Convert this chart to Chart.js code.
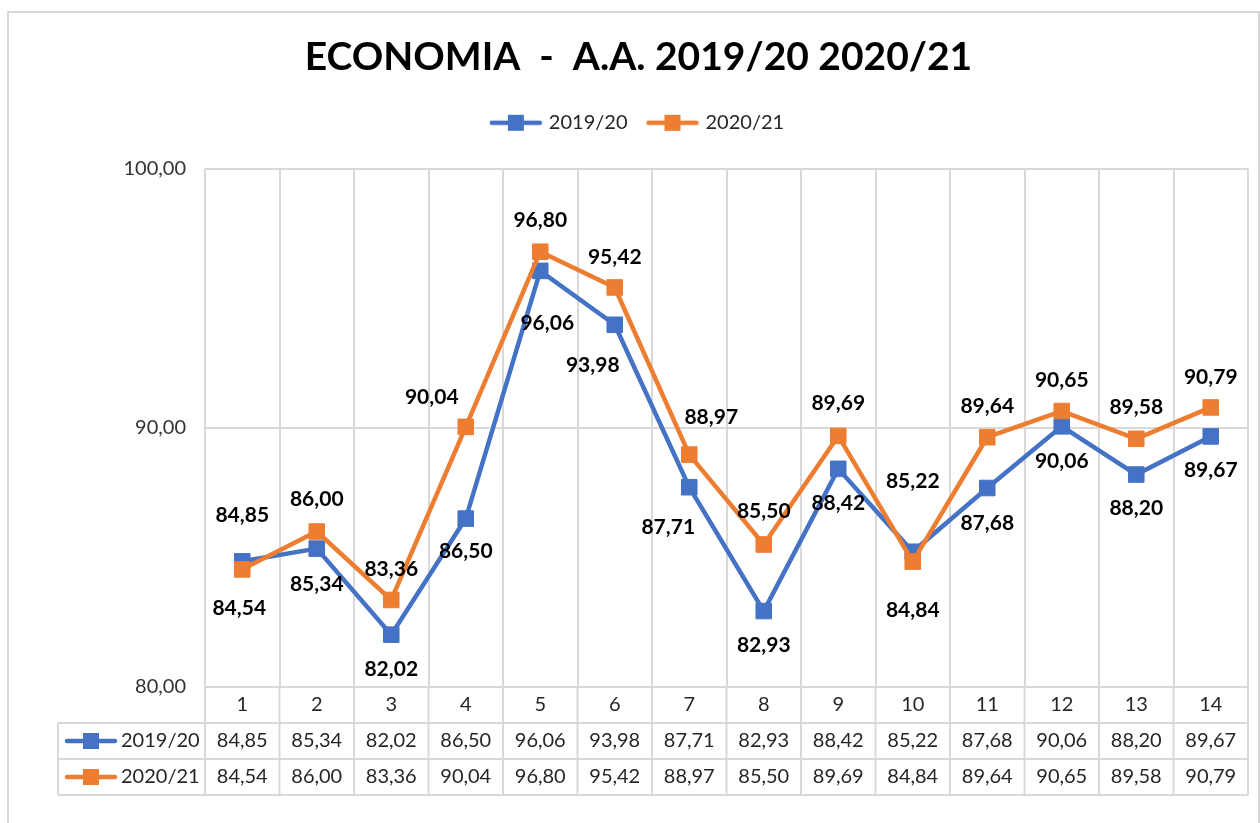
<!DOCTYPE html>
<html lang="it">
<head>
<meta charset="utf-8">
<title>Economia A.A. 2019/20 2020/21</title>
<script src="https://cdn.jsdelivr.net/npm/chart.js@4/dist/chart.umd.min.js"></script>
<style>
  html, body { margin: 0; padding: 0; background: #fff; }
  #Contenitore { position: relative; width: 1260px; height: 823px; }
</style>
</head>
<body>
<div id="Contenitore"><canvas id="Grafico"></canvas></div>
<script>
// Dati
const Categorie  = ['1', '2', '3', '4', '5', '6', '7', '8', '9', '10', '11', '12', '13', '14'];
const Valori1920 = [84.85, 85.34, 82.02, 86.50, 96.06, 93.98, 87.71, 82.93, 88.42, 85.22, 87.68, 90.06, 88.20, 89.67];
const Valori2021 = [84.54, 86.00, 83.36, 90.04, 96.80, 95.42, 88.97, 85.50, 89.69, 84.84, 89.64, 90.65, 89.58, 90.79];
const NomiSerie  = ['2019/20', '2020/21'];
const Titolo     = 'ECONOMIA  -  A.A. 2019/20 2020/21';
const MinY = 80, MaxY = 100, PassoY = 10;

// Stile
const Blu     = '#4472C4';
const Arancio = '#ED7D31';
const Griglia = '#D9D9D9';
const Testo   = '#262626';
const Font    = 'Lato, "Open Sans", sans-serif';

// spostamento delle etichette rispetto al punto [dx, dy], come le ha messe Excel
const Spost1920 = [[0,-46],[0,36],[0,35],[0,33],[7,52],[-22,40],[-21,40],[0,34],[0,34],[0,-71],[0,35],[0,35],[0,34],[0,34]];
const Spost2021 = [[-3,39],[0,-32],[0,-31],[-34,-30],[0,-31],[0,-30],[22,-37],[0,-33],[0,-33],[0,49],[0,-31],[0,-31],[0,-32],[0,-30]];

const Formatta = V => V.toFixed(2).replace('.', ',');

function Chiave(Colore) {
  const C = document.createElement('canvas');
  C.width = 54; C.height = 18;
  const X = C.getContext('2d');
  X.strokeStyle = Colore;
  X.lineWidth = 4.5;
  X.lineCap = 'round';
  X.beginPath(); X.moveTo(3, 9); X.lineTo(51, 9); X.stroke();
  X.fillStyle = Colore;
  X.fillRect(19, 1, 16, 16);
  return C;
}
const Chiavi = [Chiave(Blu), Chiave(Arancio)];

const CorniceP = {
  id: 'cornice',
  beforeDraw(Chart) {
    const Ctx = Chart.ctx;
    Ctx.save();
    Ctx.fillStyle = '#fff';
    Ctx.fillRect(0, 0, Chart.width, Chart.height);
    Ctx.strokeStyle = Griglia;
    Ctx.lineWidth = 2;
    Ctx.strokeRect(8, 12, Chart.width - 9, Chart.height + 20);
    Ctx.restore();
  }
};

const EtichetteP = {
  id: 'etichette',
  afterDatasetsDraw(Chart, Args, Opz) {
    const Ctx = Chart.ctx;
    Ctx.save();
    Ctx.font = 'bold 21px ' + Font;
    Ctx.fillStyle = '#000';
    Ctx.textAlign = 'center';
    Ctx.textBaseline = 'middle';
    Chart.data.datasets.forEach((D, I) => {
      Chart.getDatasetMeta(I).data.forEach((P, J) => {
        const [Dx, Dy] = Opz.spostamenti[I][J];
        Ctx.fillText(Formatta(D.data[J]), P.x + Dx, P.y + Dy);
      });
    });
    Ctx.restore();
  }
};

const TabellaP = {
  id: 'tabella',
  afterDraw(Chart, Args, Opz) {
    const Ctx = Chart.ctx;
    const Area = Chart.chartArea;
    const AsseX = Chart.scales.x;
    const Passo = AsseX.getPixelForValue(1) - AsseX.getPixelForValue(0);
    const Y0 = Area.bottom;
    const Y1 = Y0 + Opz.altezzaAsse;
    const Y2 = Y1 + Opz.altezzaRiga;
    const Y3 = Y2 + Opz.altezzaRiga;

    Ctx.save();
    Ctx.strokeStyle = Griglia;
    Ctx.lineWidth = 2;
    Ctx.beginPath();
    for (let I = 0; I <= Categorie.length; I++) {
      const X = AsseX.getPixelForValue(0) - Passo / 2 + I * Passo;
      Ctx.moveTo(X, Y0); Ctx.lineTo(X, Y3);
    }
    [Y1, Y2, Y3].forEach(Y => { Ctx.moveTo(Opz.sinistra, Y); Ctx.lineTo(Area.right, Y); });
    Ctx.moveTo(Opz.sinistra, Y1); Ctx.lineTo(Opz.sinistra, Y3);
    Ctx.stroke();

    Ctx.font = '20px ' + Font;
    Ctx.fillStyle = Testo;
    Ctx.textBaseline = 'middle';
    Chart.data.datasets.forEach((D, R) => {
      const Yc = Y1 + Opz.altezzaRiga * (R + 0.5);
      Ctx.drawImage(Chiavi[R], Opz.sinistra + 6, Yc - Chiavi[R].height / 2);
      Ctx.textAlign = 'left';
      Ctx.fillText(D.label, Opz.sinistra + 63, Yc);
      Ctx.textAlign = 'center';
      D.data.forEach((V, J) => Ctx.fillText(Formatta(V), AsseX.getPixelForValue(J), Yc));
    });
    Ctx.restore();
  }
};

new Chart(document.getElementById('Grafico').getContext('2d'), {
  type: 'line',
  data: {
    labels: Categorie,
    datasets: [
      {
        label: NomiSerie[0],
        data: Valori1920,
        borderColor: Blu,
        backgroundColor: Blu,
        borderWidth: 4.5,
        pointStyle: 'rect',
        pointRadius: 11,
        pointBorderWidth: 1,
        tension: 0,
        order: 1
      },
      {
        label: NomiSerie[1],
        data: Valori2021,
        borderColor: Arancio,
        backgroundColor: Arancio,
        borderWidth: 4.5,
        pointStyle: 'rect',
        pointRadius: 11,
        pointBorderWidth: 1,
        tension: 0,
        order: 0
      }
    ]
  },
  options: {
    responsive: true,
    maintainAspectRatio: false,
    animation: false,
    layout: { padding: { top: 12, left: 22, right: 5, bottom: 100 } },
    scales: {
      x: {
        offset: true,
        grid: { offset: true, color: Griglia, lineWidth: 2, drawTicks: false },
        border: { display: false },
        ticks: { color: Testo, font: { family: Font, size: 20 }, padding: 6 },
        afterFit: S => { S.height = 36; }
      },
      y: {
        min: MinY,
        max: MaxY,
        grid: { color: Griglia, lineWidth: 2, drawTicks: false },
        border: { display: false },
        ticks: {
          stepSize: PassoY,
          color: '#333',
          font: { family: Font, size: 20 },
          padding: 19,
          callback: V => Formatta(V)
        },
        afterFit: S => { S.width = 183; }
      }
    },
    plugins: {
      title: {
        display: true,
        text: Titolo,
        color: '#000',
        font: { family: Font, size: 39, weight: 'bold' },
        padding: { top: 22, bottom: 10 }
      },
      // spazio vuoto tra legenda e area del grafico
      subtitle: {
        display: true,
        text: ' ',
        weight: 500,
        font: { size: 10 },
        padding: { top: 0, bottom: 14 }
      },
      legend: {
        labels: {
          usePointStyle: true,
          pointStyleWidth: 46,
          color: Testo,
          font: { family: Font, size: 20 },
          padding: 22,
          generateLabels: Chart => Chart.data.datasets.map((D, I) => ({
            text: D.label,
            pointStyle: Chiavi[I],
            fillStyle: D.borderColor,
            strokeStyle: D.borderColor,
            fontColor: Testo,
            lineWidth: 0,
            hidden: false,
            datasetIndex: I
          }))
        }
      },
      tooltip: { enabled: false },
      etichette: { spostamenti: [Spost1920, Spost2021] },
      tabella: { altezzaAsse: 36, altezzaRiga: 36, sinistra: 58 }
    }
  },
  plugins: [CorniceP, EtichetteP, TabellaP]
});
</script>
</body>
</html>
